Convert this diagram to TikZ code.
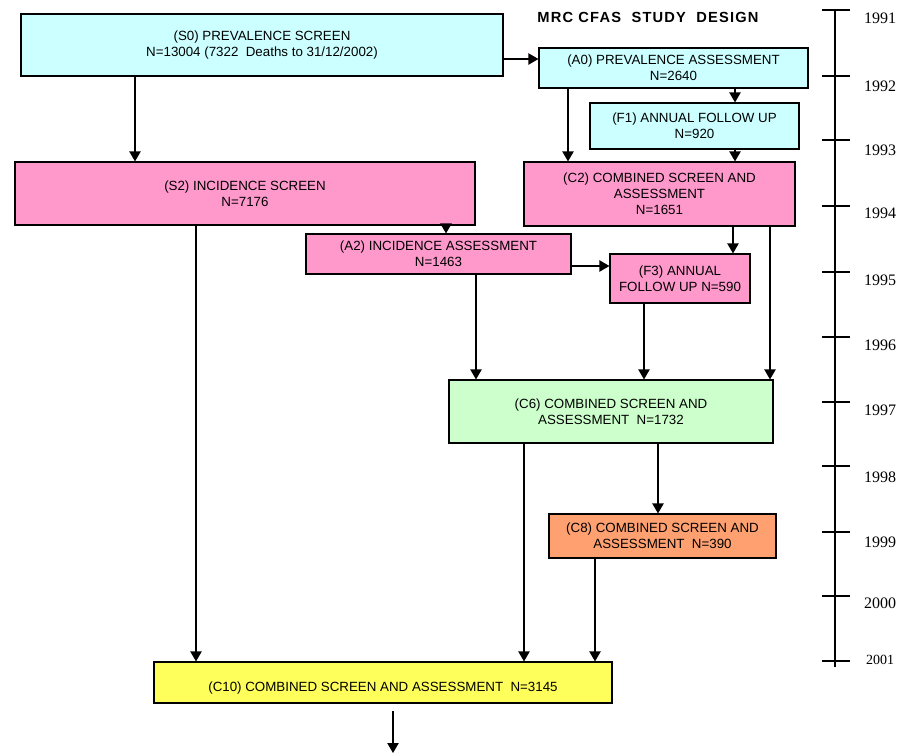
\documentclass[tikz,border=0pt]{standalone}
\usepackage{fontspec}
\setmainfont{Liberation Sans}
\newfontfamily\yearfont{Liberation Serif}
\newfontfamily\titlefont[LetterSpace=8]{Liberation Sans}
\usetikzlibrary{arrows.meta}
\definecolor{cyanbox}{HTML}{CCFFFF}
\definecolor{pinkbox}{HTML}{FF99CC}
\definecolor{greenbox}{HTML}{CCFFCC}
\definecolor{orangebox}{HTML}{FFA070}
\definecolor{yellowbox}{HTML}{FFFF5C}
\begin{document}
\begin{tikzpicture}[x=0.75pt,y=-0.75pt,
  box/.style={draw=black, line width=0.9pt, inner sep=0pt, align=center,
              font=\fontsize{10}{12}\selectfont},
  arr/.style={-{Triangle[width=8.5pt,length=7.5pt]}, line width=0.9pt},
  tl/.style={line width=0.9pt},
  year/.style={font=\yearfont\fontsize{12}{14}\selectfont, inner sep=0pt},
  title/.style={font=\titlefont\bfseries\fontsize{11}{13}\selectfont, inner sep=0pt}]
\useasboundingbox (0,0) rectangle (905,754);

% boxes
\node[box, fill=cyanbox, minimum width=361.5pt, minimum height=46.5pt] (S0) at (262,45)
  {(S0) PREVALENCE SCREEN\\N=13004 (7322 \ Deaths to 31/12/2002)};
\node[box, fill=cyanbox, minimum width=201.75pt, minimum height=30pt] (A0) at (673.5,68)
  {(A0) PREVALENCE ASSESSMENT\\N=2640};
\node[box, fill=cyanbox, minimum width=156.75pt, minimum height=34.5pt] (F1) at (694.5,126)
  {(F1) ANNUAL FOLLOW UP\\N=920};
\node[box, fill=pinkbox, minimum width=203.25pt, minimum height=48pt] (C2) at (659.5,194)
  {(C2) COMBINED SCREEN AND\\ASSESSMENT\\N=1651};
\node[box, fill=pinkbox, minimum width=345pt, minimum height=47.25pt] (S2) at (245,193.5)
  {(S2) INCIDENCE SCREEN\\N=7176};
\node[box, fill=pinkbox, minimum width=198.75pt, minimum height=30pt] (A2) at (438.5,254)
  {(A2) INCIDENCE ASSESSMENT\\N=1463};
\node[box, fill=pinkbox, minimum width=105pt, minimum height=36.75pt] (F3) at (680,278.5)
  {(F3) ANNUAL\\FOLLOW UP N=590};
\node[box, fill=greenbox, minimum width=243pt, minimum height=47.25pt] (C6) at (611,411.5)
  {(C6) COMBINED SCREEN AND\\ASSESSMENT \ N=1732};
\node[box, fill=orangebox, minimum width=170.25pt, minimum height=33pt] (C8) at (662.5,536)
  {(C8) COMBINED SCREEN AND\\ASSESSMENT \ N=390};
\node[box, fill=yellowbox, minimum width=343.5pt, minimum height=30.75pt] (C10) at (383,682.5)
  {\raisebox{-4.5pt}[\height][\depth]{(C10) COMBINED SCREEN AND ASSESSMENT \ N=3145}};

% title
\node[title] (T) at (648,17) {MRC CFAS \ STUDY \ DESIGN};

% x / y helper coordinates for connectors
\coordinate (k1) at (135,0);
\coordinate (k2) at (568,0);
\coordinate (k3) at (735,0);
\coordinate (k4) at (446,0);
\coordinate (k5) at (196,0);
\coordinate (k6) at (733,0);
\coordinate (k7) at (770,0);
\coordinate (k8) at (476,0);
\coordinate (k9) at (644,0);
\coordinate (k10) at (524,0);
\coordinate (k11) at (658,0);
\coordinate (k12) at (595,0);
\coordinate (h1) at (0,59);
\coordinate (h2) at (0,266);

% connectors
\draw[arr] (S0.east |- h1) -- (A0.west |- h1);
\draw[arr] (S0.south -| k1) -- (S2.north -| k1);
\draw[arr] (A0.south -| k2) -- (C2.north -| k2);
\draw[arr] (A0.south -| k3) -- (F1.north -| k3);
\draw[arr] (F1.south -| k3) -- (C2.north -| k3);
\draw[arr] (S2.south -| k4) -- (A2.north -| k4);
\draw[arr] (S2.south -| k5) -- (C10.north -| k5);
\draw[arr] (C2.south -| k6) -- (F3.north -| k6);
\draw[arr] (C2.south -| k7) -- (C6.north -| k7);
\draw[arr] (A2.east |- h2) -- (F3.west |- h2);
\draw[arr] (A2.south -| k8) -- (C6.north -| k8);
\draw[arr] (F3.south -| k9) -- (C6.north -| k9);
\draw[arr] (C6.south -| k10) -- (C10.north -| k10);
\draw[arr] (C6.south -| k11) -- (C8.north -| k11);
\draw[arr] (C8.south -| k12) -- (C10.north -| k12);
\coordinate (b1) at (393,711);
\coordinate (b2) at (393,753);
\draw[arr] (b1) -- (b2);

% timeline
\coordinate (t0) at (835,10);
\coordinate (t1) at (835,667);
\draw[tl] (t0) -- (t1);
\foreach \ty/\ly/\yr in {10/18/1991, 76/86/1992, 140/150/1993, 206/213/1994,
    272/280/1995, 337/345/1996, 402/410/1997, 466/477/1998, 532/542/1999, 596/603/2000} {
  \draw[tl] (822,\ty) -- (850,\ty);
  \node[year] (y\yr) at (880,\ly) {\yr};
}
\draw[tl] (822,661) -- (850,661);
\node[year, font=\yearfont\fontsize{10.5}{12}\selectfont] (y2001) at (880,660) {2001};
\end{tikzpicture}
\end{document}
